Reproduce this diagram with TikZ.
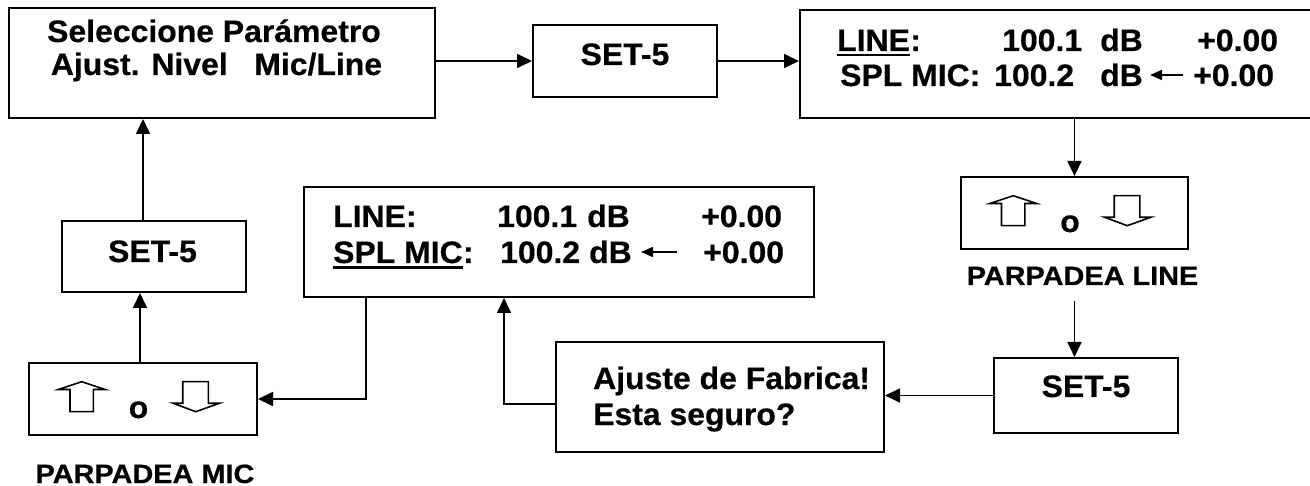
\documentclass[tikz,border=0pt]{standalone}
\usepackage{fontspec}
\setmainfont{Liberation Sans}[FakeStretch=1.03, FakeBold=0.5]
\newfontfamily\lblfont{Liberation Sans}[FakeStretch=1.09, FakeBold=0.5]
\usetikzlibrary{arrows.meta}
\begin{document}
\begin{tikzpicture}[x=1pt,y=-1pt,
  box/.style={draw, line width=2pt, inner sep=0pt},
  txt/.style={inner sep=0pt, font=\fontsize{31}{36}\selectfont\bfseries},
  lbl/.style={inner sep=0pt, font=\lblfont\fontsize{26.5}{30}\selectfont\bfseries},
  conn/.style={line width=1.7pt},
  arr/.style={conn, -{Triangle[length=15pt,width=14pt]}},
  smallarr/.style={line width=1.7pt, -{Triangle[length=12pt,width=10pt]}},
  glyph/.style={line width=1.6pt, line join=miter},
  ulin/.style={line width=2.4pt},
  updown/.pic={
    \draw[glyph] (-73,12.7) -- (-73,-9.5) -- (-84.7,-9.5) -- (-61.3,-17.3) -- (-38,-9.5) -- (-49.7,-9.5) -- (-49.7,12.7) -- cycle;
    \draw[glyph] (39.7,-17.3) -- (39.7,4.3) -- (30.3,4.3) -- (52.7,12.7) -- (76.3,4.3) -- (65.3,4.3) -- (65.3,-17.3) -- cycle;
    \node[txt, anchor=base] (o) at (-4.5,19) {o};
  }
]
\useasboundingbox (0,0) rectangle (1310,486);

% top-left box
\node[box, minimum width=426pt, minimum height=110pt] (box1) at (222,63) {};
\node[txt, anchor=base] (b1l1) at (214,42) {Seleccione Parámetro};
\node[txt, anchor=base] (b1l2) at (216.5,75) {Ajust. Nivel\ \ \ Mic/Line};

% SET-5 top
\node[box, minimum width=184pt, minimum height=72pt] (set1) at (625,61) {};
\node[txt, anchor=base] (set1t) at (625,65) {SET-5};

% top LCD
\node[box, minimum width=515pt, minimum height=108pt] (lcd1) at (1057.5,64) {};
\node[txt, anchor=base west] (t1line) at (837,51) {LINE};
\node[txt, anchor=base west] (t1col) at (t1line.base east) {:};
\node[txt, anchor=base west] (t1val) at (1002,51) {100.1};
\node[txt, anchor=base west] (t1db) at (1100,51) {dB};
\node[txt, anchor=base west] (t1off) at (1197,51) {+0.00};
\node[txt, anchor=base west] (t2mic) at (840,86) {SPL MIC:};
\node[txt, anchor=base west] (t2val) at (994,86) {100.2};
\node[txt, anchor=base west] (t2db) at (1100,86) {dB};
\node[txt, anchor=base west] (t2off) at (1193,86) {+0.00};
\draw[ulin] ([yshift=-4pt]t1line.base west) -- ([yshift=-4pt]t1line.base east);
\coordinate (sa1s) at (1183,75);
\coordinate (sa1e) at (1150,75);
\draw[smallarr] (sa1s) -- (sa1e);

% right up/down box
\node[box, minimum width=227pt, minimum height=72pt] (ud1) at (1074.5,213) {};
\pic (pud1) at (ud1.center) {updown};
\node[lbl, anchor=base] (lbl1) at (1082.5,285) {PARPADEA LINE};

% SET-5 bottom right
\node[box, minimum width=184pt, minimum height=75pt] (set2) at (1086,395.5) {};
\node[txt, anchor=base] (set2t) at (1086,397) {SET-5};

% factory reset box
\node[box, minimum width=328pt, minimum height=109pt] (fab) at (720,397) {};
\node[txt, anchor=base west] (fab1) at (593,389) {Ajuste de Fabrica!};
\node[txt, anchor=base west] (fab2) at (593,425) {Esta seguro?};

% middle LCD
\node[box, minimum width=510pt, minimum height=110pt] (lcd2) at (559,242) {};
\node[txt, anchor=base west] (m1line) at (333,227) {LINE:};
\node[txt, anchor=base west] (m1val) at (497,227) {100.1};
\node[txt, anchor=base west] (m1db) at (587,227) {dB};
\node[txt, anchor=base west] (m1off) at (701,227) {+0.00};
\node[txt, anchor=base west] (m2mic) at (333,263) {SPL MIC};
\node[txt, anchor=base west] (m2col) at (m2mic.base east) {:};
\node[txt, anchor=base west] (m2val) at (500,263) {100.2};
\node[txt, anchor=base west] (m2db) at (589,263) {dB};
\node[txt, anchor=base west] (m2off) at (703,263) {+0.00};
\draw[ulin] ([yshift=-4.5pt]m2mic.base west) -- ([yshift=-4.5pt]m2mic.base east);
\coordinate (sa2s) at (677,252);
\coordinate (sa2e) at (641,252);
\draw[smallarr] (sa2s) -- (sa2e);

% left SET-5
\node[box, minimum width=184pt, minimum height=71pt] (set3) at (154,256.5) {};
\node[txt, anchor=base] (set3t) at (152.5,262) {SET-5};

% left up/down box
\node[box, minimum width=228pt, minimum height=72pt] (ud2) at (143,399) {};
\pic (pud2) at (ud2.center) {updown};
\node[lbl, anchor=base] (lbl2) at (145,483) {PARPADEA MIC};

% connectors
\draw[arr] (set1.west -| box1.east) -- (set1.west);
\draw[arr] (set1.east) -- (set1.east -| lcd1.west);
\draw[arr] (ud1.north |- lcd1.south) -- (ud1.north);
\path (lbl1.base) ++(0,16) coordinate (l1b);
\draw[arr] (l1b -| ud1.center) -- (ud1.center |- set2.north);
\draw[arr] (set2.west) -- (set2.west -| fab.east);
\draw[arr] ([yshift=-7pt]fab.west) -| ([xshift=-55pt]lcd2.south);
\draw[arr] ([xshift=-193pt]lcd2.south) |- (ud2.east);
\coordinate (v1) at ([xshift=-3pt]ud2.north);
\draw[arr] (v1) -- (v1 |- set3.south);
\draw[arr] (ud2.center |- set3.north) -- (ud2.center |- box1.south);
\end{tikzpicture}
\end{document}
